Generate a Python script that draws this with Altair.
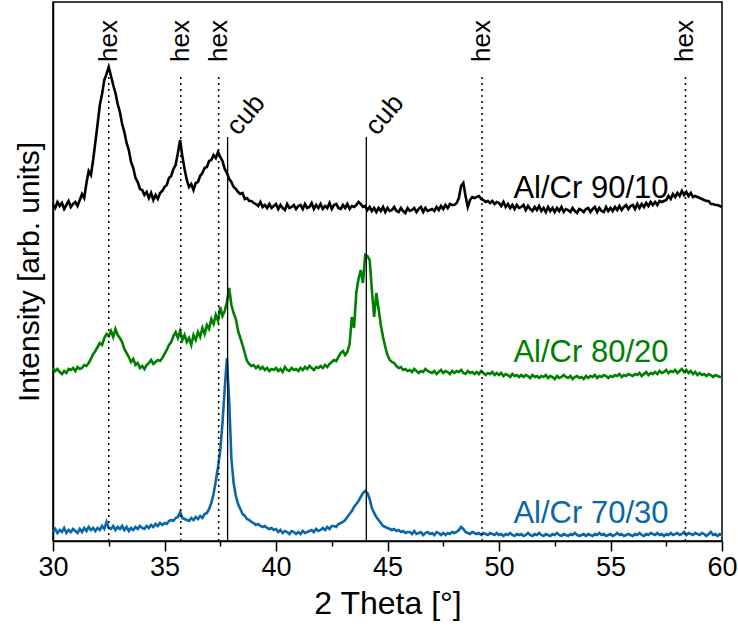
import altair as alt
import pandas as pd

# 2 Theta grid (degrees), 0.1 deg steps from 30 to 60
two_theta = [round(30 + 0.1 * i, 1) for i in range(301)]

# Intensities (arbitrary units, already offset for stacking)
i_9010 = [
    336, 333, 339, 335, 338, 332, 336, 340, 334, 337,
    339, 335, 341, 347, 343, 358, 370, 366, 381, 399,
    417, 436, 447, 461, 467, 474, 465, 456, 448, 437,
    429, 417, 409, 398, 391, 379, 373, 363, 359, 352,
    351, 346, 349, 343, 348, 341, 346, 342, 348, 350,
    354, 356, 363, 365, 372, 376, 388, 401, 385, 372,
    361, 354, 357, 351, 358, 359, 365, 368, 373, 374,
    380, 381, 386, 383, 389, 384, 380, 372, 368, 362,
    359, 354, 352, 349, 347, 348, 342, 343, 340, 340,
    338, 337, 335, 339, 334, 336, 333, 337, 333, 335,
    337, 332, 336, 333, 331, 337, 333, 334, 336, 332,
    335, 336, 332, 337, 333, 334, 338, 332, 336, 333,
    337, 332, 335, 333, 338, 332, 336, 337, 333, 332,
    336, 333, 337, 332, 335, 334, 336, 339, 337, 334,
    335, 331, 334, 330, 333, 329, 333, 330, 334, 329,
    333, 330, 331, 334, 330, 329, 333, 330, 328, 333,
    330, 331, 333, 329, 332, 334, 329, 333, 330, 331,
    332, 330, 334, 331, 335, 332, 336, 333, 337, 336,
    336, 338, 343, 355, 358, 345, 334, 341, 344, 343,
    344, 345, 342, 341, 339, 340, 338, 340, 337, 339,
    338, 335, 339, 334, 337, 333, 336, 332, 336, 333,
    334, 336, 331, 335, 332, 330, 334, 331, 335, 330,
    333, 329, 334, 330, 333, 329, 333, 330, 334, 329,
    332, 331, 329, 333, 330, 328, 332, 331, 329, 332,
    333, 329, 332, 334, 329, 333, 330, 329, 334, 330,
    333, 330, 334, 331, 335, 331, 334, 336, 332, 335,
    336, 332, 337, 333, 337, 334, 338, 335, 339, 336,
    339, 336, 340, 339, 340, 341, 345, 342, 347, 344,
    348, 345, 350, 346, 349, 345, 348, 344, 345, 344,
    343, 342, 341, 340, 340, 337, 337, 336, 336, 335,
    334,
]

i_8020 = [
    173, 170, 172, 169, 167, 170, 168, 172, 171, 173,
    170, 174, 172, 173, 176, 175, 178, 182, 187, 190,
    194, 198, 196, 203, 207, 205, 210, 204, 212, 206,
    203, 199, 192, 188, 184, 179, 182, 176, 178, 173,
    175, 172, 176, 178, 181, 177, 179, 181, 180, 183,
    187, 191, 196, 199, 205, 209, 203, 210, 201, 206,
    199, 203, 196, 206, 201, 209, 204, 213, 207, 216,
    212, 222, 217, 226, 220, 234, 225, 230, 239, 253,
    236, 228, 222, 210, 203, 196, 188, 180, 177, 175,
    176, 173, 175, 172, 174, 171, 173, 170, 172, 171,
    173, 170, 172, 169, 174, 171, 170, 173, 171, 172,
    170, 173, 171, 174, 172, 175, 173, 171, 174, 173,
    175, 173, 176, 174, 177, 179, 181, 180, 184, 188,
    190, 186, 189, 197, 224, 213, 248, 262, 271, 258,
    286, 285, 281, 251, 224, 248, 232, 216, 204, 194,
    186, 181, 179, 178, 175, 173, 174, 171, 172, 170,
    171, 169, 172, 170, 168, 170, 169, 172, 170, 169,
    168, 170, 167, 169, 171, 168, 170, 169, 167, 170,
    168, 170, 169, 171, 168, 167, 170, 168, 169, 167,
    169, 167, 170, 168, 166, 168, 167, 169, 166, 168,
    166, 168, 165, 167, 166, 164, 167, 165, 166, 164,
    166, 164, 166, 165, 163, 166, 164, 165, 163, 165,
    164, 166, 163, 165, 164, 162, 165, 163, 164, 166,
    164, 163, 165, 162, 164, 165, 163, 164, 162, 165,
    163, 165, 164, 166, 163, 165, 164, 166, 165, 163,
    165, 164, 166, 165, 167, 164, 166, 165, 167, 166,
    165, 167, 166, 168, 165, 167, 169, 166, 168, 167,
    169, 167, 170, 168, 169, 171, 168, 170, 169, 171,
    168, 170, 172, 169, 171, 168, 170, 167, 169, 166,
    168, 166, 167, 165, 167, 166, 164, 166, 165, 164,
    164,
]

i_7030 = [
    9, 12, 8, 11, 9, 13, 8, 11, 9, 12,
    10, 8, 12, 9, 13, 10, 14, 11, 13, 10,
    13, 11, 15, 12, 19, 13, 12, 15, 11, 14,
    12, 15, 11, 14, 10, 13, 11, 14, 12, 15,
    13, 12, 15, 13, 16, 14, 17, 15, 18, 16,
    18, 17, 20, 21, 20, 23, 24, 29, 23, 22,
    21, 20, 23, 21, 24, 22, 25, 23, 27, 28,
    32, 38, 47, 60, 74, 91, 118, 152, 183, 140,
    82, 58, 45, 37, 32, 27, 25, 22, 21, 19,
    18, 16, 17, 15, 14, 15, 13, 12, 13, 11,
    12, 9, 11, 8, 10, 9, 7, 10, 9, 7,
    9, 7, 10, 8, 9, 10, 11, 9, 12, 10,
    11, 13, 11, 14, 12, 15, 15, 14, 17, 18,
    19, 21, 24, 27, 30, 34, 37, 40, 44, 48,
    50, 48, 42, 33, 28, 24, 21, 18, 15, 14,
    13, 12, 11, 12, 10, 11, 9, 10, 8, 9,
    9, 7, 10, 7, 8, 9, 6, 8, 9, 7,
    8, 6, 9, 8, 6, 8, 6, 8, 7, 9,
    8, 9, 11, 14, 12, 9, 8, 7, 9, 8,
    7, 8, 6, 8, 7, 6, 8, 7, 6, 8,
    6, 7, 5, 7, 6, 8, 6, 5, 7, 6,
    7, 5, 6, 8, 6, 5, 7, 6, 8, 6,
    5, 7, 6, 5, 7, 6, 8, 6, 5, 7,
    6, 5, 7, 6, 8, 6, 5, 6, 7, 5,
    7, 6, 5, 7, 6, 8, 6, 7, 5, 6,
    7, 5, 6, 8, 6, 7, 5, 6, 7, 6,
    5, 7, 6, 8, 6, 5, 7, 6, 8, 7,
    6, 8, 6, 7, 5, 7, 6, 8, 6, 7,
    8, 6, 7, 9, 6, 8, 7, 6, 8, 7,
    6, 8, 7, 5, 7, 9, 6, 7, 5, 7,
    6,
]

samples = ["Al/Cr 90/10", "Al/Cr 80/20", "Al/Cr 70/30"]
sample_colors = ["#000000", "#008000", "#0a67a8"]
label_theta = [57.6, 57.6, 57.6]
label_level = [343, 179, 18]

hex_pos = [32.5, 35.73, 37.43, 49.24, 58.36]
hex_top = 464
hex_text_level = 479
cub_pos = [37.83, 44.05]
cub_top = 404

x_ticks = [30, 32.5, 35, 37.5, 40, 42.5, 45, 47.5, 50, 52.5, 55, 57.5, 60]

FONT = "Liberation Sans"

rows = []
for name, series in zip(samples, [i_9010, i_8020, i_7030]):
    for t, v in zip(two_theta, series):
        rows.append({"theta": t, "intensity": v, "sample": name})
curves = pd.DataFrame(rows)

hex_df = pd.DataFrame({"theta": hex_pos, "intensity": [hex_top] * len(hex_pos),
                       "base": [0] * len(hex_pos), "txt": ["hex"] * len(hex_pos),
                       "tl": [hex_text_level] * len(hex_pos)})
cub_df = pd.DataFrame({"theta": cub_pos, "intensity": [cub_top] * len(cub_pos),
                       "base": [0] * len(cub_pos), "txt": ["cub"] * len(cub_pos)})
lab_df = pd.DataFrame({"theta": label_theta, "intensity": label_level, "sample": samples})

xscale = alt.Scale(domain=[30, 60], nice=False, zero=False)
yscale = alt.Scale(domain=[0, 539], nice=False, zero=False)
cscale = alt.Scale(domain=samples, range=sample_colors)

x_axis = alt.Axis(
    title="2 Theta [°]", values=x_ticks, grid=False, labelFlush=False,
    labelExpr="datum.value % 5 === 0 ? datum.label : ''",
    tickSize={"condition": {"test": "datum.value % 5 === 0", "value": 10}, "value": 5},
    tickColor="black", tickWidth=1.5, domainColor="black", domainWidth=1.5,
    labelFont=FONT, labelFontSize=27, labelColor="black", labelPadding=3,
    titleFont=FONT, titleFontSize=32, titleFontWeight="normal", titleColor="black",
    titleY=72, titleBaseline="alphabetic",
)
y_axis = alt.Axis(
    title="Intensity [arb. units]", labels=False, ticks=False, grid=False,
    domainColor="black", domainWidth=1.5,
    titleFont=FONT, titleFontSize=30, titleFontWeight="normal", titleColor="black",
    titleX=-15, titleBaseline="alphabetic",
)

hex_rules = alt.Chart(hex_df).mark_rule(color="black", strokeWidth=1.5, strokeDash=[2, 4]).encode(
    x=alt.X("theta:Q", scale=xscale), y=alt.Y("intensity:Q", scale=yscale), y2="base:Q")
cub_rules = alt.Chart(cub_df).mark_rule(color="black", strokeWidth=1.3).encode(
    x=alt.X("theta:Q", scale=xscale), y=alt.Y("intensity:Q", scale=yscale), y2="base:Q")

lines = alt.Chart(curves).mark_line(strokeWidth=2.6, interpolate="linear").encode(
    x=alt.X("theta:Q", scale=xscale, axis=x_axis),
    y=alt.Y("intensity:Q", scale=yscale, axis=y_axis),
    color=alt.Color("sample:N", scale=cscale, legend=None),
    detail="sample:N",
)

hex_text = alt.Chart(hex_df).mark_text(angle=270, align="left", baseline="middle",
                                        font=FONT, fontSize=26, color="black").encode(
    x=alt.X("theta:Q", scale=xscale), y=alt.Y("tl:Q", scale=yscale), text="txt:N")
cub_text = alt.Chart(cub_df).mark_text(angle=310, align="left", baseline="alphabetic",
                                        font=FONT, fontSize=27, color="black", dx=7, dy=8).encode(
    x=alt.X("theta:Q", scale=xscale), y=alt.Y("intensity:Q", scale=yscale), text="txt:N")
lab_text = alt.Chart(lab_df).mark_text(align="right", baseline="alphabetic",
                                        font=FONT, fontSize=31).encode(
    x=alt.X("theta:Q", scale=xscale), y=alt.Y("intensity:Q", scale=yscale),
    text="sample:N", color=alt.Color("sample:N", scale=cscale, legend=None))

chart = alt.layer(lines, hex_rules, cub_rules, hex_text, cub_text, lab_text).properties(
    width=669, height=539,
    autosize=alt.AutoSizeParams(type="none"),
    padding={"left": 53, "top": 2, "right": 16, "bottom": 101},
    background="white",
).configure_view(stroke="black", strokeWidth=1.5)

chart.save("out.html", embed_options={"renderer": "svg", "actions": False})
